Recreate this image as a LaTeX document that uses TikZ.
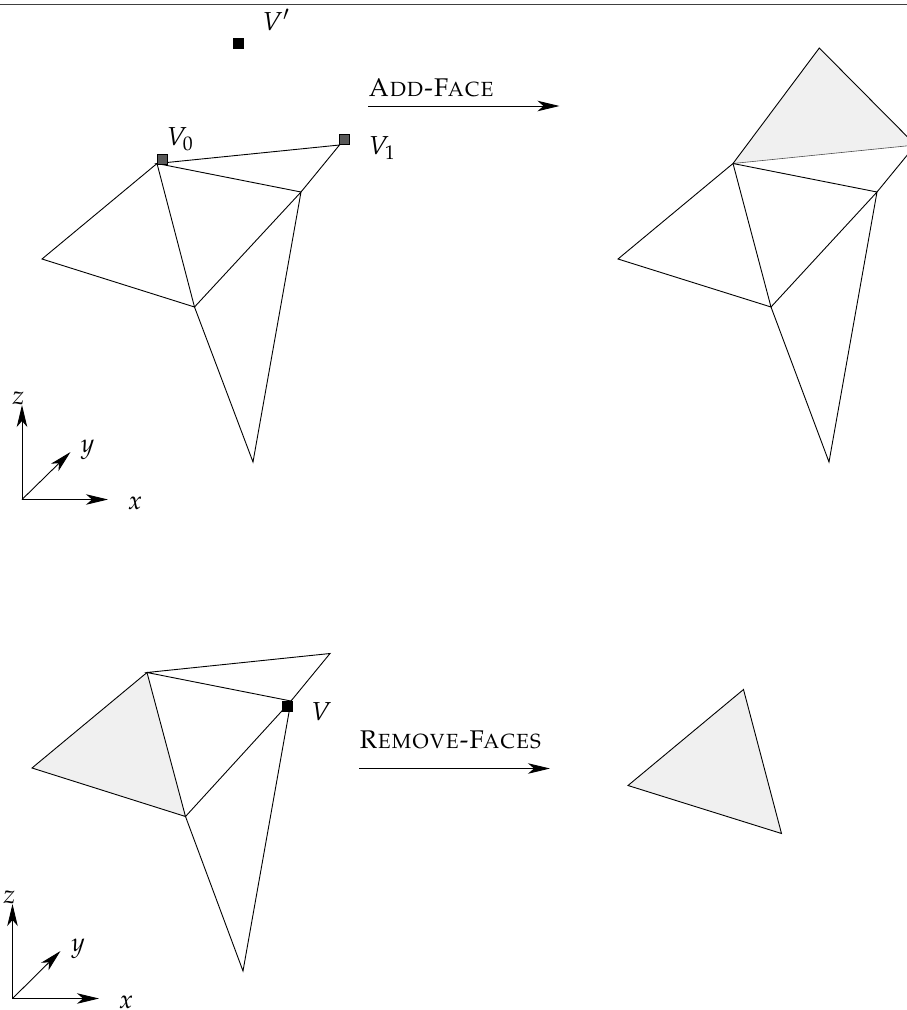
\documentclass[tikz,border=0pt]{standalone}
\usepackage[T1]{fontenc}
\usepackage{mathpazo}
\usetikzlibrary{arrows.meta}
\tikzset{
  edge/.style={black,line width=0.9pt,line join=miter},
  thin edge/.style={black!70,line width=0.6pt},
  face/.style={fill=black!6,draw=none},
  arrowline/.style={black,line width=0.9pt,-{Stealth[length=22pt,width=10.5pt,inset=6pt]}},
  lab/.style={inner sep=0pt,font=\fontsize{26}{30}\selectfont},
  capt/.style={inner sep=0pt,anchor=base west,font=\fontsize{25.6}{30}\selectfont},
  blacksq/.style={draw=black,fill=black,minimum size=10pt,inner sep=0pt,line width=0.5pt},
  graysq/.style={draw=black,fill=black!65,minimum size=10pt,inner sep=0pt,line width=0.8pt},
}
\begin{document}
\begin{tikzpicture}[x=1pt,y=-1pt]
\useasboundingbox (0,0) rectangle (907,1010);
\clip (0,0) rectangle (907,1010);
\fill[white] (0,0) rectangle (907,1010);
% top rule
\coordinate (ruleL) at (0,4.6);
\coordinate (ruleR) at (907,4.6);
\draw[black!75,line width=1pt] (ruleL) -- (ruleR);

% top-left mesh
\coordinate (a1) at (157,163.5);
\coordinate (a2) at (339.5,145);
\coordinate (a3) at (301,192);
\coordinate (a4) at (42,259);
\coordinate (a5) at (194.5,307);
\coordinate (a6) at (253,462);
\draw[edge] (a1) -- (a2) -- (a3) -- cycle;
\draw[edge] (a1) -- (a4) -- (a5) -- cycle;
\draw[edge] (a3) -- (a5) -- (a6) -- cycle;
\node[graysq] (V0sq) at (162,159) {};
\node[graysq] (V1sq) at (344,139.5) {};
\node[blacksq] (Vpsq) at (238.5,43.5) {};
\node[lab] (Vp) at (276,20) {$V'$};
\node[lab] (V0) at (180,139) {$V_0$};
\node[lab] (V1) at (382,148) {$V_1$};

% top-right mesh
\coordinate (b1) at (733,163.5);
\coordinate (b2) at (915.5,145);
\coordinate (b3) at (877,192);
\coordinate (b4) at (618,259);
\coordinate (b5) at (771,307);
\coordinate (b6) at (829,462);
\coordinate (b7) at (819.3,48);
\path[face] (b1) -- (b7) -- (b2) -- cycle;
\draw[edge] (b1) -- (b7) -- (b2);
\draw[thin edge] (b1) -- (b2);
\draw[edge] (b2) -- (b3) -- (b1);
\draw[edge] (b1) -- (b4) -- (b5) -- cycle;
\draw[edge] (b3) -- (b5) -- (b6) -- cycle;

% add-face arrow
\coordinate (addL) at (368,106);
\coordinate (addR) at (559.5,106);
\draw[arrowline] (addL) -- (addR);
\node[capt] (addlab) at (368,96.5) {\textsc{Add-Face}};

% axes 1
\coordinate (o1) at (22,499.5);
\coordinate (z1) at (22,405);
\coordinate (x1) at (108,499.5);
\coordinate (y1) at (70.5,452);
\draw[arrowline] (o1) -- (z1);
\draw[arrowline] (o1) -- (x1);
\draw[arrowline] (o1) -- (y1);
\node[lab] (zl1) at (18.5,398) {$z$};
\node[lab] (yl1) at (87.5,449.5) {$y$};
\node[lab] (xl1) at (135,503) {$x$};

% bottom-left mesh
\coordinate (c1) at (147,672.5);
\coordinate (c2) at (330,653.5);
\coordinate (c3) at (291,701);
\coordinate (c4) at (32,768);
\coordinate (c5) at (185.5,816.5);
\coordinate (c6) at (243,971);
\path[face] (c1) -- (c4) -- (c5) -- cycle;
\draw[edge] (c1) -- (c2) -- (c3) -- cycle;
\draw[edge] (c1) -- (c4) -- (c5) -- cycle;
\draw[edge] (c3) -- (c5) -- (c6) -- cycle;
\node[blacksq] (Vsq) at (287,706) {};
\node[lab] (V) at (321.5,712) {$V$};

% remove-faces arrow
\coordinate (remL) at (359,768.5);
\coordinate (remR) at (550,768.5);
\draw[arrowline] (remL) -- (remR);
\node[capt] (remlab) at (359,748.5) {\textsc{Remove-Faces}};

% bottom-right triangle
\coordinate (d1) at (743.5,689.5);
\coordinate (d2) at (628,785.5);
\coordinate (d3) at (781.5,833.5);
\draw[edge,fill=black!6] (d1) -- (d2) -- (d3) -- cycle;

% axes 2
\coordinate (o2) at (12.5,998.5);
\coordinate (z2) at (12.5,904);
\coordinate (x2) at (99,998.5);
\coordinate (y2) at (60.5,951);
\draw[arrowline] (o2) -- (z2);
\draw[arrowline] (o2) -- (x2);
\draw[arrowline] (o2) -- (y2);
\node[lab] (zl2) at (9.5,897) {$z$};
\node[lab] (yl2) at (78,948.5) {$y$};
\node[lab] (xl2) at (126,1002) {$x$};
\end{tikzpicture}
\end{document}
